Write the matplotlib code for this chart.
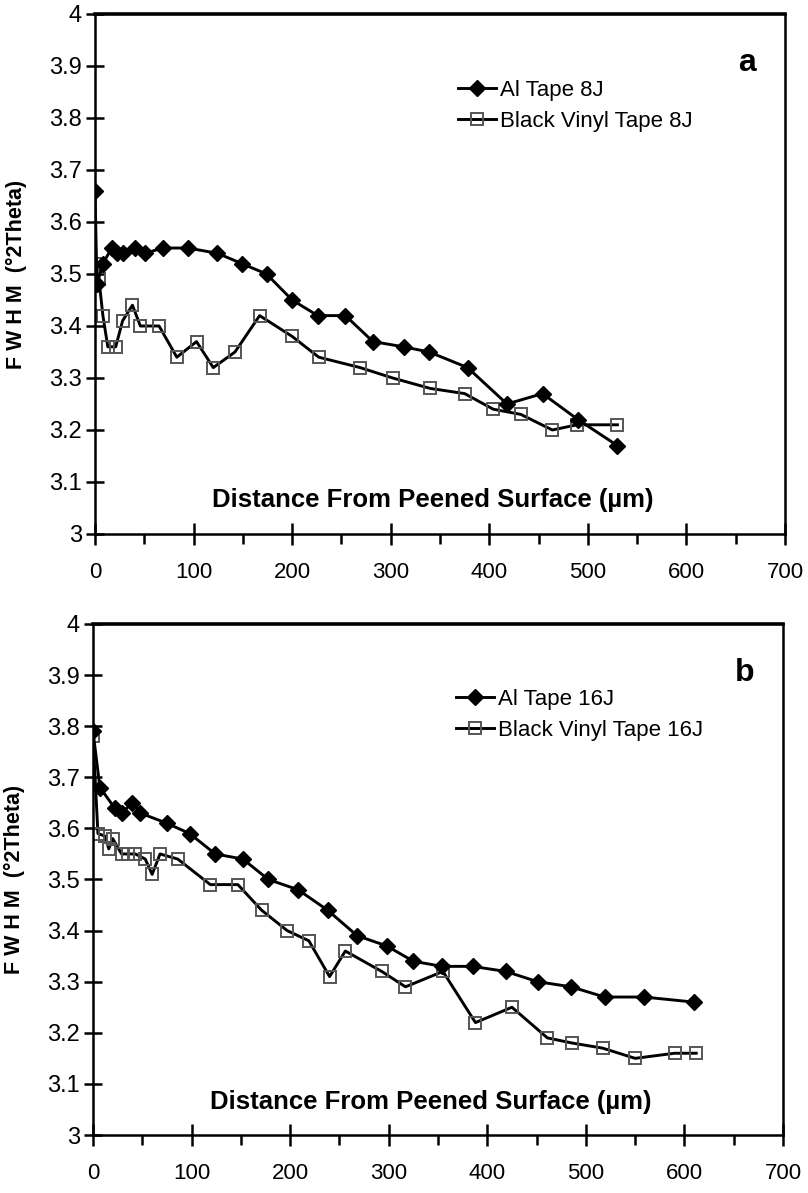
import matplotlib
matplotlib.use("Agg")
import matplotlib.pyplot as plt
from matplotlib.ticker import MultipleLocator

plt.rcParams['font.family'] = ['Liberation Sans', 'DejaVu Sans']

# panel a - 8J
al8_x = [0, 2, 8, 17, 22, 28, 41, 51, 69, 94, 124, 149, 174, 200, 226, 254,
         282, 313, 339, 378, 418, 454, 490, 530]
al8_y = [3.66, 3.48, 3.52, 3.55, 3.54, 3.54, 3.55, 3.54, 3.55, 3.55, 3.54, 3.52,
         3.50, 3.45, 3.42, 3.42, 3.37, 3.36, 3.35, 3.32, 3.25, 3.27, 3.22, 3.17]
bv8_x = [0, 4, 8, 13, 21, 28, 38, 46, 65, 83, 103, 120, 142, 167, 200, 227,
         269, 302, 340, 375, 404, 432, 464, 489, 530]
bv8_y = [3.52, 3.49, 3.42, 3.36, 3.36, 3.41, 3.44, 3.40, 3.40, 3.34, 3.37, 3.32,
         3.35, 3.42, 3.38, 3.34, 3.32, 3.30, 3.28, 3.27, 3.24, 3.23, 3.20, 3.21, 3.21]

# panel b - 16J
al16_x = [0, 7, 22, 29, 40, 48, 75, 98, 124, 152, 178, 208, 238, 268, 298, 325,
          354, 385, 419, 451, 485, 519, 559, 610]
al16_y = [3.79, 3.68, 3.64, 3.63, 3.65, 3.63, 3.61, 3.59, 3.55, 3.54, 3.50, 3.48,
          3.44, 3.39, 3.37, 3.34, 3.33, 3.33, 3.32, 3.30, 3.29, 3.27, 3.27, 3.26]
bv16_x = [0, 5, 12, 16, 20, 29, 36, 43, 53, 60, 68, 86, 119, 147, 171, 197, 219,
          240, 256, 293, 317, 355, 388, 425, 461, 486, 517, 550, 590, 612]
bv16_y = [3.78, 3.59, 3.585, 3.56, 3.58, 3.55, 3.55, 3.55, 3.54, 3.51, 3.55, 3.54,
          3.49, 3.49, 3.44, 3.40, 3.38, 3.31, 3.36, 3.32, 3.29, 3.32, 3.22, 3.25,
          3.19, 3.18, 3.17, 3.15, 3.16, 3.16]

panels = [
    (al8_x, al8_y, bv8_x, bv8_y, "Al Tape 8J", "Black Vinyl Tape 8J", "a"),
    (al16_x, al16_y, bv16_x, bv16_y, "Al Tape 16J", "Black Vinyl Tape 16J", "b"),
]

W, H = 808, 1193
fig = plt.figure(figsize=(W / 100, H / 100), dpi=100)
boxes = [(95, 14, 690, 520), (93, 624, 690, 511)]


def make_axes(box):
    l, t, w, h = box
    return fig.add_axes([l / W, 1 - (t + h) / H, w / W, h / H])


for box, (ax_, ay_, bx_, by_, la, lb, tag) in zip(boxes, panels):
    ax = make_axes(box)
    ax.plot(ax_, ay_, color="black", lw=2.1, marker="D", ms=8,
            mfc="black", mec="black", label=la, zorder=3)
    ax.plot(bx_, by_, color="black", lw=2.1, marker="s", ms=9,
            mfc="none", mec="#555555", mew=1.4, label=lb, zorder=2)

    ax.set_xlim(0, 700)
    ax.set_ylim(3, 4)
    ax.xaxis.set_major_locator(MultipleLocator(100))
    ax.xaxis.set_minor_locator(MultipleLocator(50))
    ax.yaxis.set_major_locator(MultipleLocator(0.1))
    ax.yaxis.set_major_formatter(plt.FuncFormatter(lambda v, p: f"{v:g}"))

    ax.tick_params(axis="x", which="major", direction="inout", length=16, width=1.8,
                   labelsize=16, pad=12)
    ax.tick_params(axis="x", which="minor", direction="out", length=7, width=1.8)
    ax.tick_params(axis="y", which="major", direction="inout", length=13, width=1.8,
                   labelsize=17, pad=3)
    for side in ["left", "right", "bottom"]:
        ax.spines[side].set_linewidth(1.8)
    ax.spines["top"].set_linewidth(2.6)

    ax.text(0.49, 0.065, "Distance From Peened Surface (\u00b5m)", transform=ax.transAxes,
            ha="center", va="center", fontsize=18.5, fontweight="bold")
    ax.text(0.945, 0.905, tag, transform=ax.transAxes, ha="center", va="center",
            fontsize=23, fontweight="bold")
    ax.set_ylabel("F W H M  (\u00b02Theta)", fontsize=15.5, fontweight="bold", labelpad=16)

    ax.legend(loc="upper left", bbox_to_anchor=(0.51, 0.895), frameon=False,
              fontsize=16, handlelength=1.7, handletextpad=0.2, labelspacing=0.45,
              borderpad=0)

fig.savefig("out.png", dpi=100)
